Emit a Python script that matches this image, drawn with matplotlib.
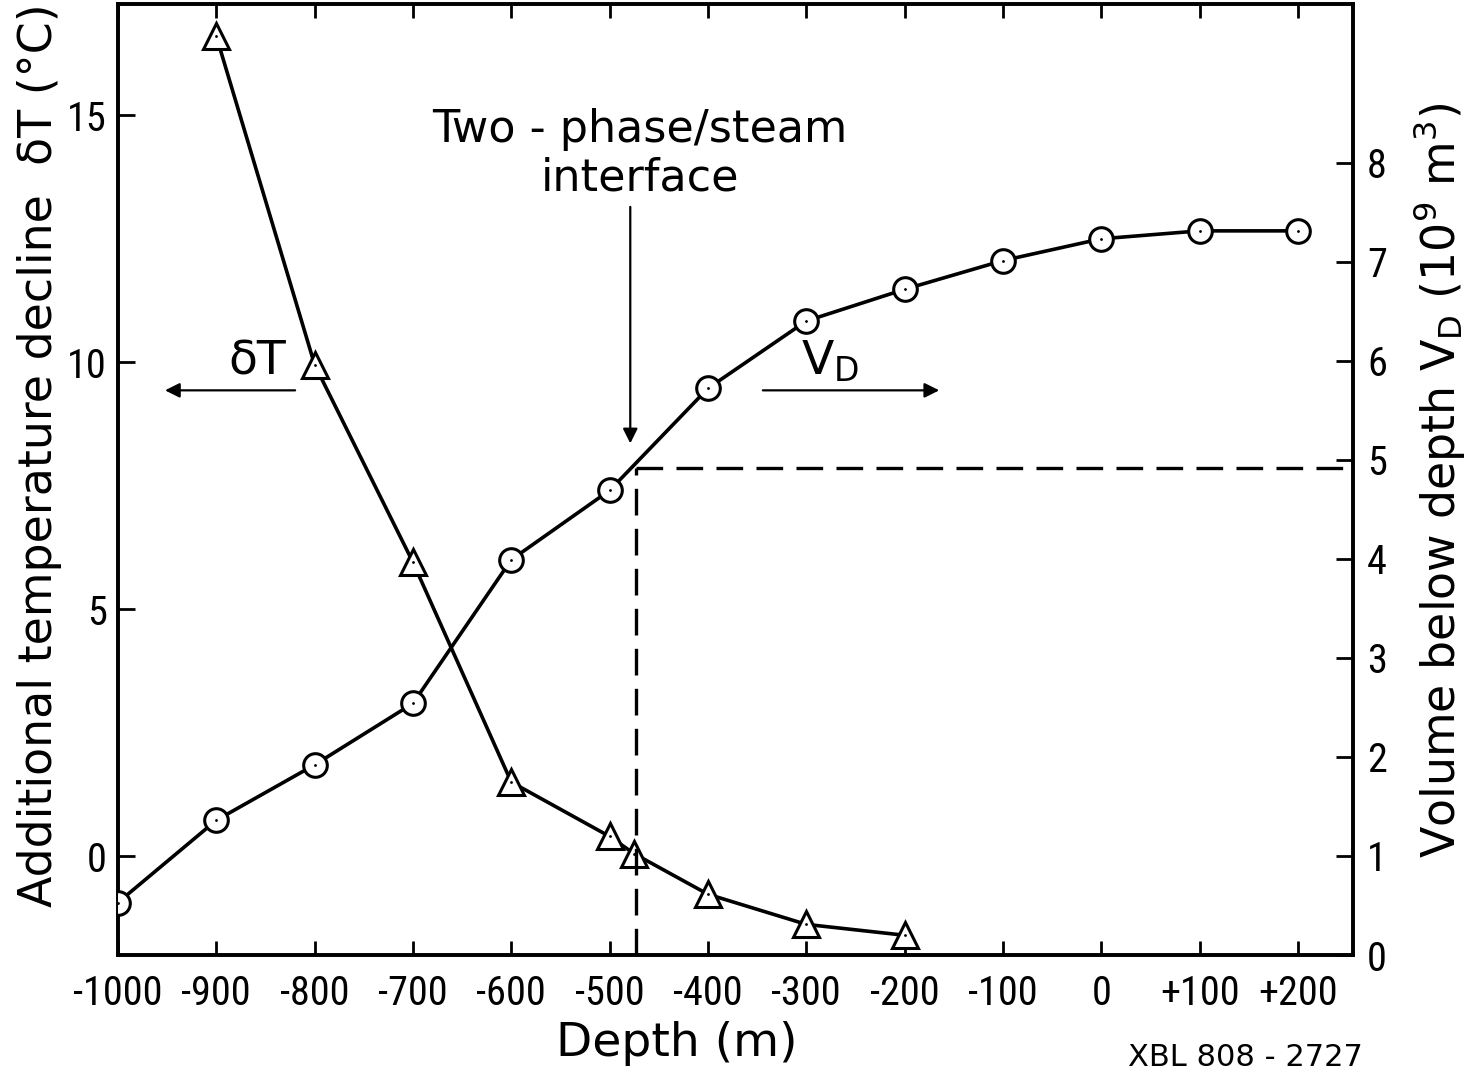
import matplotlib.pyplot as plt
from matplotlib import font_manager

# depth (m) and the two measured curves
depth_dt = [-900, -800, -700, -600, -500, -475, -400, -300, -200]
delta_t = [16.6, 9.95, 5.95, 1.5, 0.4, 0.05, -0.77, -1.38, -1.6]

depth_vd = [-1000, -900, -800, -700, -600, -500, -400, -300, -200, -100, 0, 100, 200]
vol_vd = [0.53, 1.36, 1.92, 2.54, 3.99, 4.69, 5.72, 6.40, 6.72, 7.01, 7.23, 7.31, 7.31]

x_ticks = [-1000, -900, -800, -700, -600, -500, -400, -300, -200, -100, 0, 100, 200]
x_labels = ["-1000", "-900", "-800", "-700", "-600", "-500", "-400", "-300",
            "-200", "-100", "0", "+100", "+200"]
interface_depth = -473
interface_vol = 4.92


def narrow_font():
    # look for a condensed face among the installed fonts
    names = {f.name for f in font_manager.fontManager.ttflist}
    for n in ["Liberation Sans Narrow", "Roboto Condensed", "Open Sans Condensed",
              "DejaVu Sans Condensed", "Noto Sans Condensed"]:
        if n in names:
            return dict(family=n)
    for f in font_manager.fontManager.ttflist:
        if f.stretch in ("condensed", "semi-condensed", "extra-condensed") \
                and f.style == "normal" and f.weight in (400, "normal", "regular"):
            return dict(family=f.name, stretch=f.stretch)
    return None


nf = narrow_font()
if nf is None:
    tick_kw = dict(family="DejaVu Sans", fontsize=22)
else:
    tick_kw = dict(nf, fontsize=29)
label_font = ["DejaVu Sans"]

fig = plt.figure(figsize=(14.8, 10.85), dpi=100)
ax = fig.add_axes([0.0797, 0.1198, 0.8345, 0.8765])
ax2 = ax.twinx()

lw = 2.6
ax.plot(depth_dt, delta_t, color="black", lw=lw, marker="^", ms=19,
        mfc="white", mec="black", mew=2.2, zorder=3)
ax.plot(depth_dt, delta_t, ls="none", marker=".", ms=2, color="black", zorder=4)
ax2.plot(depth_vd, vol_vd, color="black", lw=lw, marker="o", ms=17,
         mfc="white", mec="black", mew=2.2, zorder=3)
ax2.plot(depth_vd, vol_vd, ls="none", marker=".", ms=2, color="black", zorder=4)

ax.set_xlim(-1000, 256)
ax.set_ylim(-2, 17.25)
ax2.set_ylim(0, 9.6)

# interface dashed guides
ax2.plot([interface_depth, interface_depth], [0, interface_vol], color="black",
         lw=2.4, dashes=(8, 4))
ax2.plot([interface_depth, 256], [interface_vol, interface_vol], color="black",
         lw=2.4, dashes=(8, 4))

ax.set_xticks(x_ticks)
ax.set_xticklabels(x_labels, **tick_kw)
ax.set_yticks([0, 5, 10, 15])
ax.set_yticklabels(["0", "5", "10", "15"], **tick_kw)
ax2.set_yticks(range(9))
ax2.set_yticklabels([str(i) for i in range(9)], **tick_kw)

ax.tick_params(axis="x", direction="in", length=10, width=2, top=True, pad=14)
ax.tick_params(axis="y", direction="in", length=12, width=2, pad=8)
ax2.tick_params(axis="y", direction="in", length=12, width=2, pad=10)
for a in (ax, ax2):
    for s in a.spines.values():
        s.set_linewidth(2.6)

arrow = dict(arrowstyle="-|>", color="black", lw=1.6, mutation_scale=22)
ax.annotate("", xy=(-955, 9.43), xytext=(-817, 9.43), arrowprops=arrow)
ax.annotate("", xy=(-162, 9.43), xytext=(-347, 9.43), arrowprops=arrow)
ax.annotate("", xy=(-479, 8.3), xytext=(-479, 13.2), arrowprops=arrow)

ax.text(-858, 10.0, "δT", fontsize=34, family=label_font, ha="center", va="center")
ax.text(-276, 10.0, "V$_\\mathregular{D}$", fontsize=34, family=label_font,
        ha="center", va="center")
ax.text(-469, 14.7, "Two - phase/steam", fontsize=32, family=label_font,
        ha="center", va="center")
ax.text(-469, 13.72, "interface", fontsize=32, family=label_font,
        ha="center", va="center")

fig.text(677 / 1480, 1 - 1043 / 1085, "Depth (m)", fontsize=34, family=label_font,
         ha="center", va="center")
fig.text(0.027, 1 - 455 / 1085, "Additional temperature decline  δT (°C)",
         fontsize=33, family=label_font, rotation=90, ha="center", va="center")
fig.text(0.972, 1 - 480 / 1085,
         "Volume below depth V$_\\mathregular{D}$ (10$^\\mathregular{9}$ m$^\\mathregular{3}$)",
         fontsize=33, family=label_font, rotation=90, ha="center", va="center")
fig.text(1245 / 1480, 1 - 1058 / 1085, "XBL 808 - 2727", fontsize=22,
         family=label_font, ha="center", va="center")

fig.savefig("out.png", dpi=100)
